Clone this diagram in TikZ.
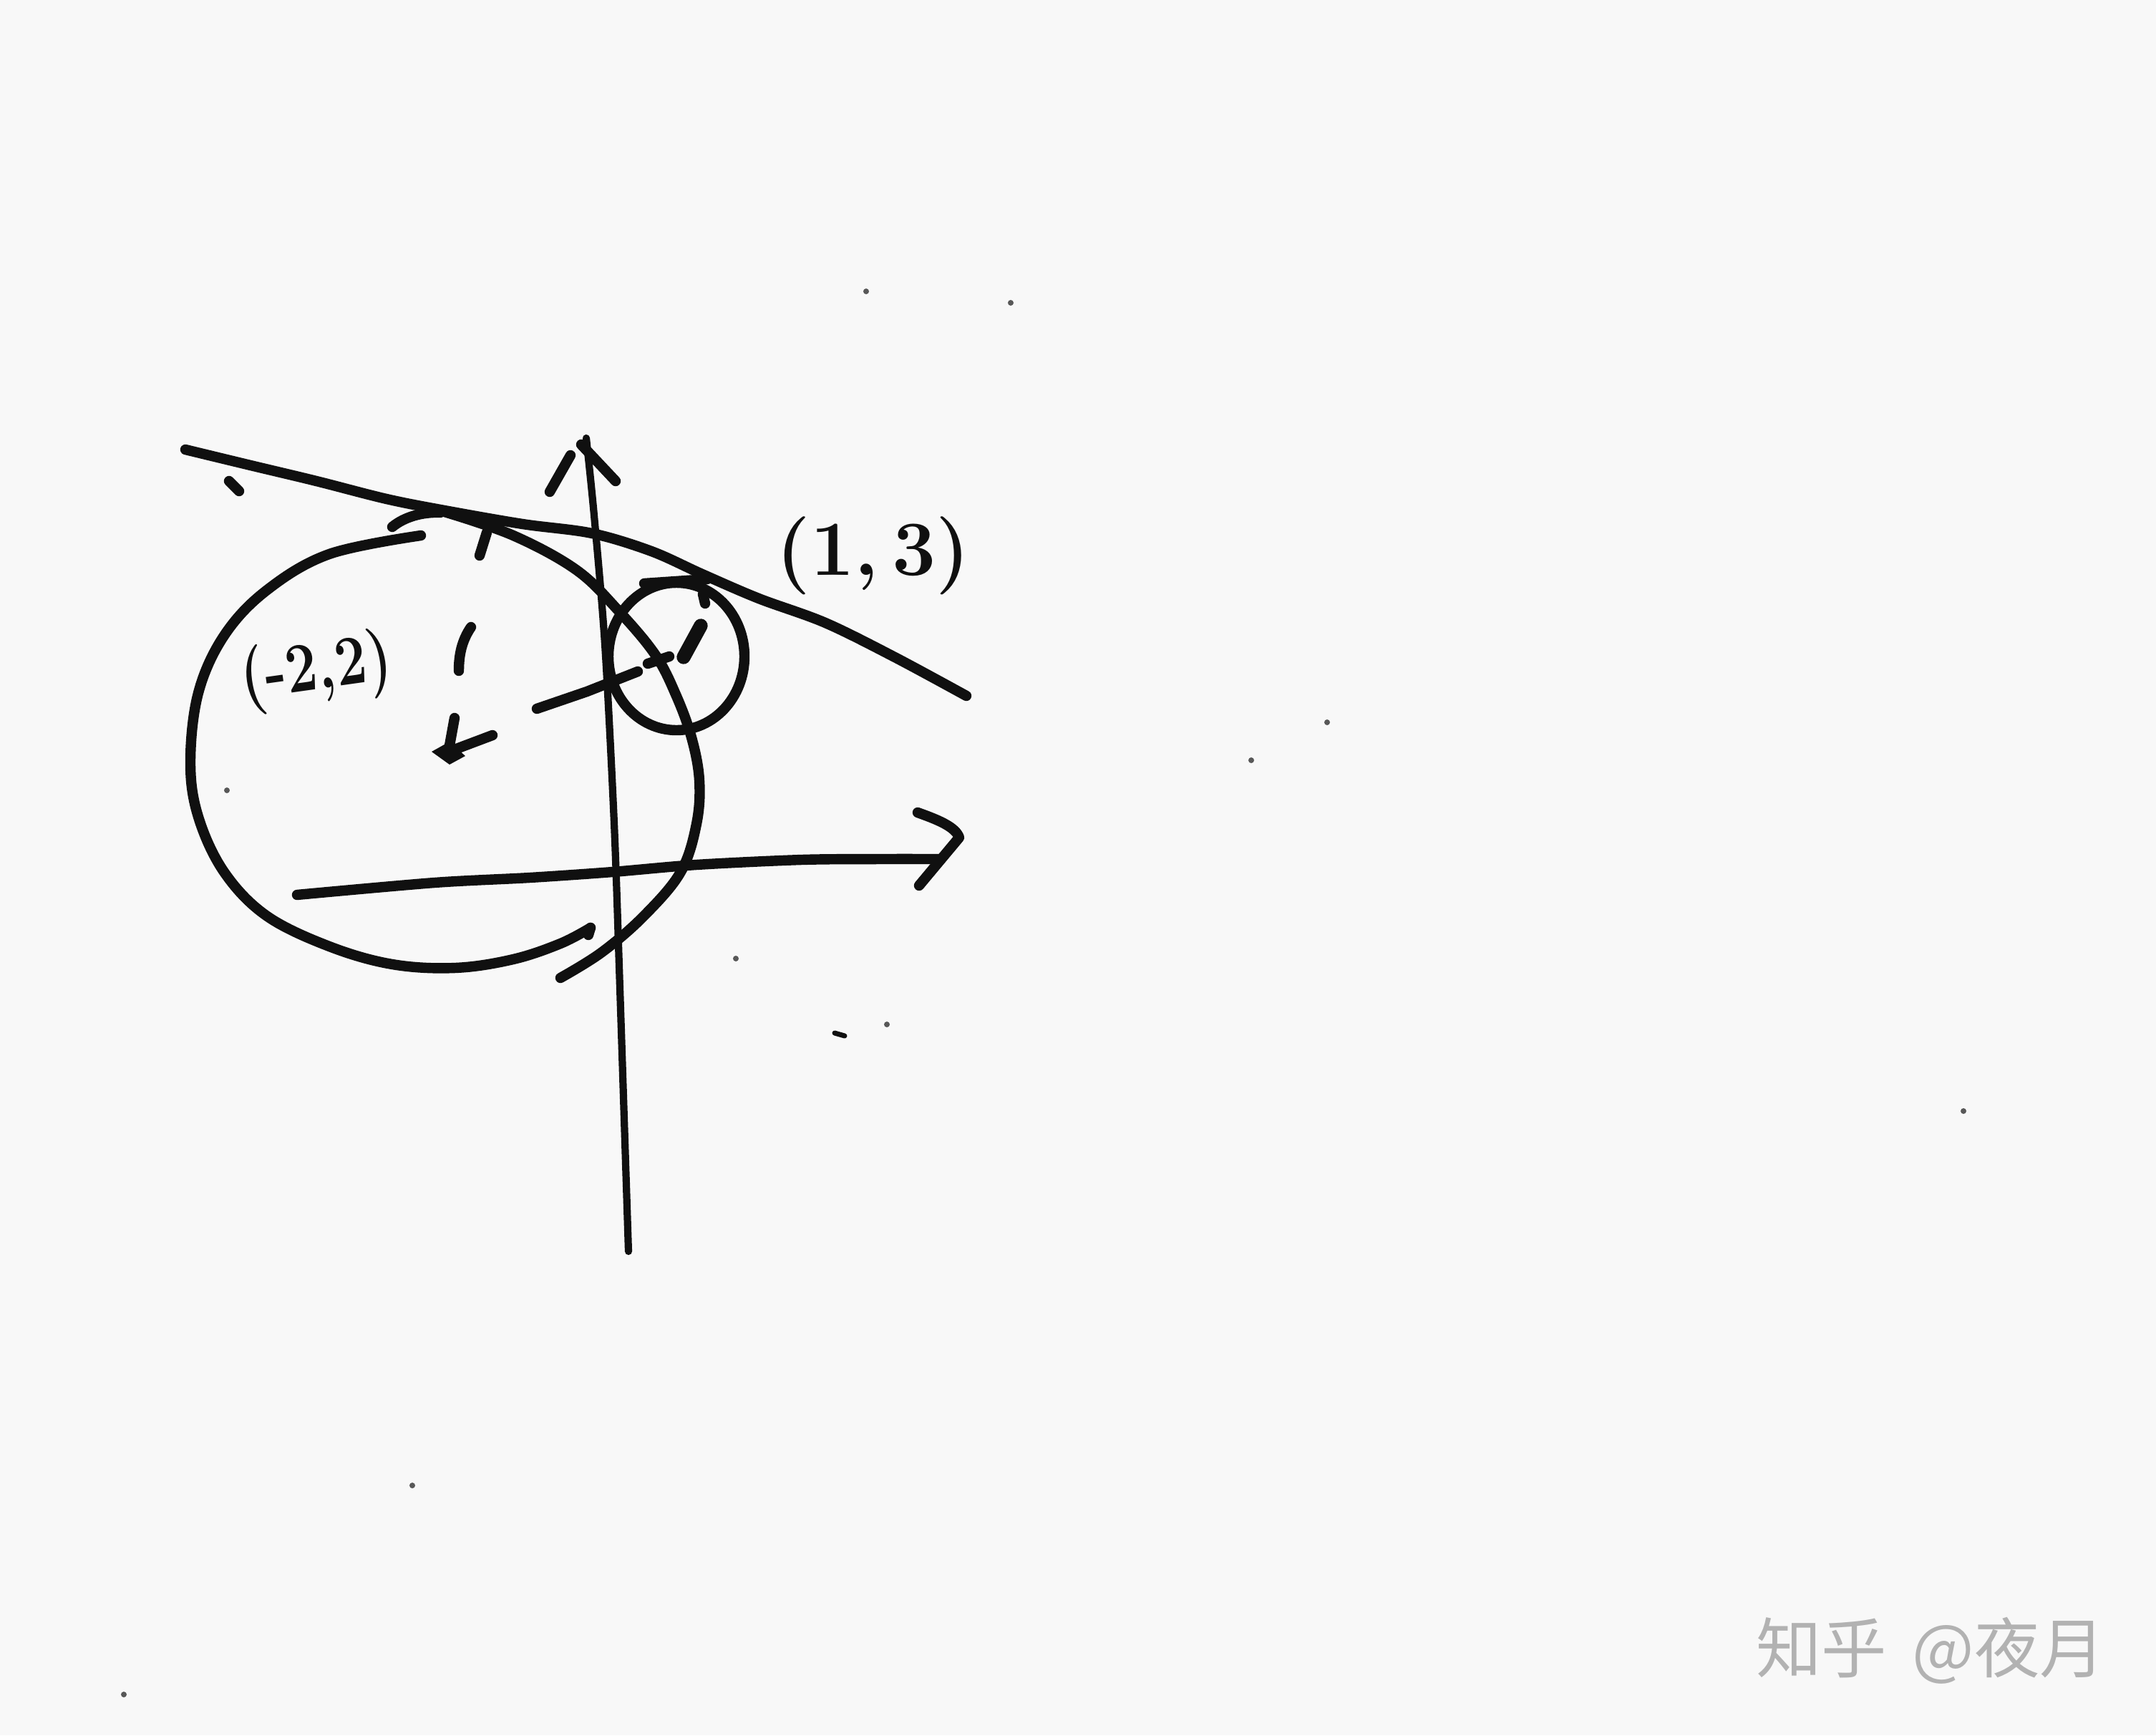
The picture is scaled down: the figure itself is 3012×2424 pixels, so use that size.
\documentclass[tikz,border=0pt]{standalone}
\usepackage{fontspec}
\newfontfamily\cjkfont{Noto Sans CJK SC}
\definecolor{paper}{HTML}{F8F8F8}
\definecolor{ink}{HTML}{101010}
\definecolor{wmgray}{HTML}{B2B2B2}
\tikzset{
  pen/.style={draw=ink, line width=4.1pt, line cap=round, line join=round},
  axispen/.style={pen, line width=2.9pt},
  speck/.style={fill=ink!70, draw=none},
  lbl/.style={text=ink, inner sep=0pt, font=\bfseries\fontsize{31}{31}\selectfont},
}
\begin{document}
\begin{tikzpicture}[x=0.01cm,y=-0.01cm]
\useasboundingbox (0,0) rectangle (3012,2424);
\fill[paper] (0,0) rectangle (3012,2424);

% tangent curve through (1,3)
\draw[pen] plot[smooth, tension=0.55] coordinates {(259,628)(350,650)(442,672)(540,697)(621,713)(730,732)(827,745)(910,770)(981,802)(1060,836)(1153,870)(1250,918)(1350,972)};

% vertical axis with open arrowhead
\draw[axispen] plot[smooth] coordinates {(878,1748)(866,1380)(858,1150)(845,900)(830,720)(819,612)};
\coordinate (ytip) at (812,621);
\draw[pen] (768,687) -- (797,636);
\draw[pen] (ytip) -- (860,672);

% horizontal axis with open arrowhead
\draw[pen] plot[smooth] coordinates {(415,1250)(607,1233)(740,1226)(856,1218)(973,1208)(1120,1201)(1230,1200)(1312,1200)};
\draw[pen] (1282,1135) .. controls (1310,1145) and (1335,1155) .. (1340,1170) -- (1284,1237);

% big circle: left part with top hook
\draw[pen] (548,736) .. controls (565,722) and (590,715) .. (615,716);
\draw[pen] plot[smooth, tension=0.6] coordinates {(588,748)(460,774)(372,825)(313,888)(277,968)(266,1065)(277,1141)(313,1218)(372,1279)(460,1322)(548,1347)(636,1352)(717,1340)(783,1318)(825,1296)};
\draw[pen] (825,1296) -- (822,1306);
% big circle: right part
\draw[pen] plot[smooth, tension=0.6] coordinates {(621,715)(717,748)(805,796)(863,852)(915,914)(944,970)(966,1030)(977,1090)(973,1151)(951,1218)(900,1279)(841,1330)(783,1366)};

% small circle
\draw[pen] (945,917) ellipse [x radius=95, y radius=103];
\draw[pen] (900,815) -- (988,809);

% marks inside / around small circle
\draw[pen, line width=5.5pt] (955,918) -- (979,874);
\draw[pen] (905,927) -- (935,917);
\draw[pen] (982,830) -- (985,843);
\draw[pen] (750,990) -- (820,966) -- (891,938);

% marks at big circle
\draw[pen] (680,744) -- (670,776);
\draw[pen] (658,876) .. controls (645,895) and (641,915) .. (641,937);
\draw[pen] (635,1003) -- (627,1047);
\draw[pen] (688,1027) -- (627,1050);
\fill[ink] (603,1050) -- (628,1036) -- (650,1056) -- (628,1068) -- cycle;
\draw[pen] (320,672) -- (334,686);

% labels
\node[lbl] (p13) at (1220,776) {(1,\,3)};
\node[lbl, rotate=8, xscale=0.8, font=\bfseries\fontsize{28}{28}\selectfont] (p22) at (442,938) {(-2,2)};

% specks
\foreach \p in {(317,1104),(1210,407),(1412,423),(1854,1009),(1748,1062),(1028,1339),(1239,1431),(2743,1552),(576,2075),(173,2367)}
  \fill[speck] \p circle (4);
\draw[pen, line width=2pt] (1166,1443) -- (1180,1447);

% watermark
\node[text=wmgray, inner sep=0pt, font=\cjkfont\fontsize{26}{26}\selectfont] (wm) at (2697,2306) {知乎\ \,@夜月};
\end{tikzpicture}
\end{document}
